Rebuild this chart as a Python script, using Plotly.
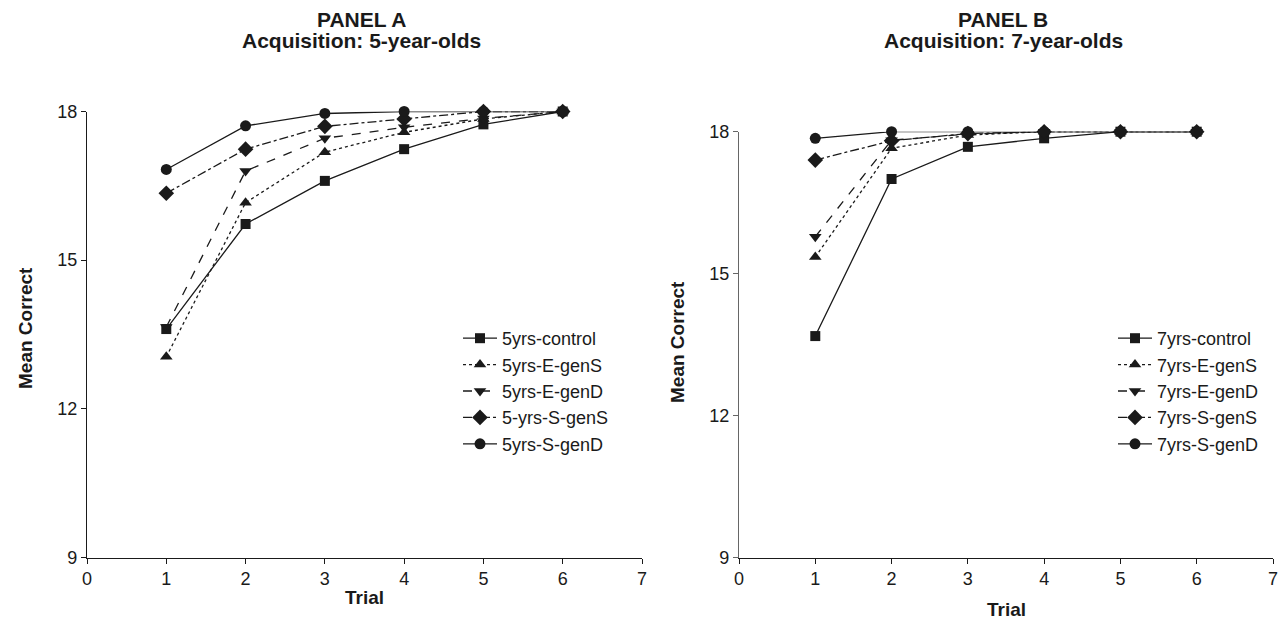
import plotly.graph_objects as go

trials = [1, 2, 3, 4, 5, 6]

names_a = ["5yrs-control", "5yrs-E-genS", "5yrs-E-genD", "5-yrs-S-genS", "5yrs-S-genD"]
a_control = [13.61, 15.73, 16.60, 17.24, 17.74, 18.0]
a_e_gens = [13.05, 16.16, 17.18, 17.58, 17.85, 18.0]
a_e_gend = [13.65, 16.80, 17.46, 17.68, 17.86, 18.0]
a_s_gens = [16.35, 17.24, 17.70, 17.85, 18.0, 18.0]
a_s_gend = [16.83, 17.71, 17.96, 18.0, 18.0, 18.0]

names_b = ["7yrs-control", "7yrs-E-genS", "7yrs-E-genD", "7yrs-S-genS", "7yrs-S-genD"]
b_control = [13.68, 17.0, 17.68, 17.86, 18.0, 18.0]
b_e_gens = [15.35, 17.65, 17.93, 18.0, 18.0, 18.0]
b_e_gend = [15.78, 17.82, 17.95, 18.0, 18.0, 18.0]
b_s_gens = [17.40, 17.81, 17.96, 18.0, 18.0, 18.0]
b_s_gend = [17.86, 18.0, 18.0, 18.0, 18.0, 18.0]

y_ticks = [9, 12, 15, 18]
x_ticks = [0, 1, 2, 3, 4, 5, 6, 7]

dashes = ["solid", "dot", "dash", "dashdot", "solid"]
symbols = ["square", "triangle-up", "triangle-down", "diamond", "circle"]
msizes = [10, 11, 11, 12, 11]

FONT = "Liberation Sans, Arial, sans-serif"
INK = "#1a1a1a"

fig = go.Figure()

def add_panel(series, names, xa, ya, legend):
    for i, (vals, nm) in enumerate(zip(series, names)):
        fig.add_trace(go.Scatter(
            x=trials, y=vals, name=nm, mode="lines+markers",
            line=dict(color=INK, width=1.3, dash=dashes[i]),
            marker=dict(symbol=symbols[i], size=msizes[i], color=INK),
            xaxis=xa, yaxis=ya, legend=legend, legendgroup=legend + str(i),
            cliponaxis=False,
        ))

add_panel([a_control, a_e_gens, a_e_gend, a_s_gens, a_s_gend], names_a, "x", "y", "legend")
add_panel([b_control, b_e_gens, b_e_gend, b_s_gens, b_s_gend], names_b, "x2", "y2", "legend2")

W, H = 1286, 619
def px(x):
    return x / W
def py(y):
    return 1 - y / H

axis_common = dict(
    showgrid=False, zeroline=False, showline=True, linewidth=1.3,
    ticks="outside", ticklen=5, tickwidth=1.3,
    tickfont=dict(family=FONT, size=18, color=INK),
)

leg_common = dict(xanchor="left", yanchor="top", tracegroupgap=0,
                  font=dict(family=FONT, size=18, color=INK),
                  bgcolor="rgba(0,0,0,0)", itemwidth=34)

fig.update_layout(
    width=W, height=H,
    margin=dict(l=0, r=0, t=0, b=0, autoexpand=False),
    paper_bgcolor="white", plot_bgcolor="white",
    showlegend=True,
    xaxis=dict(domain=[px(79), px(634)], range=[0, 7], tickvals=x_ticks, linecolor=INK, tickcolor=INK, anchor="y", **axis_common),
    yaxis=dict(domain=[py(549.5), py(103.5)], range=[9, 18], tickvals=y_ticks, linecolor=INK, tickcolor=INK, anchor="x", **axis_common),
    xaxis2=dict(domain=[px(731), px(1265)], range=[0, 7], tickvals=x_ticks, linecolor=INK, tickcolor=INK, anchor="y2", **axis_common),
    yaxis2=dict(domain=[py(549.5), py(123.7)], range=[9, 18], tickvals=y_ticks, linecolor="#666", tickcolor="#666", anchor="x2", **axis_common),
    legend=dict(x=px(450), y=py(312), **leg_common),
    legend2=dict(x=px(1105), y=py(312), **leg_common),
)

title_font = dict(family=FONT, size=21, color=INK)
lab_font = dict(family=FONT, size=19, color=INK)

def note(x, y, text, font, angle=0, height=None):
    fig.add_annotation(x=px(x), y=py(y), xref="paper", yref="paper", showarrow=False,
                       xanchor="center", yanchor="middle", text=text, font=font,
                       textangle=angle, height=height, valign="middle")

note(353, 11, "<b>PANEL A</b>", title_font, height=21)
note(353, 32, "<b>Acquisition: 5-year-olds</b>", title_font)
note(995, 11, "<b>PANEL B</b>", title_font, height=21)
note(995, 32, "<b>Acquisition: 7-year-olds</b>", title_font)
note(356, 589, "<b>Trial</b>", lab_font)
note(998, 601, "<b>Trial</b>", lab_font)
note(17, 320, "<b>Mean Correct</b>", lab_font, -90)
note(669, 334, "<b>Mean Correct</b>", lab_font, -90)

fig.write_html("out.html")
